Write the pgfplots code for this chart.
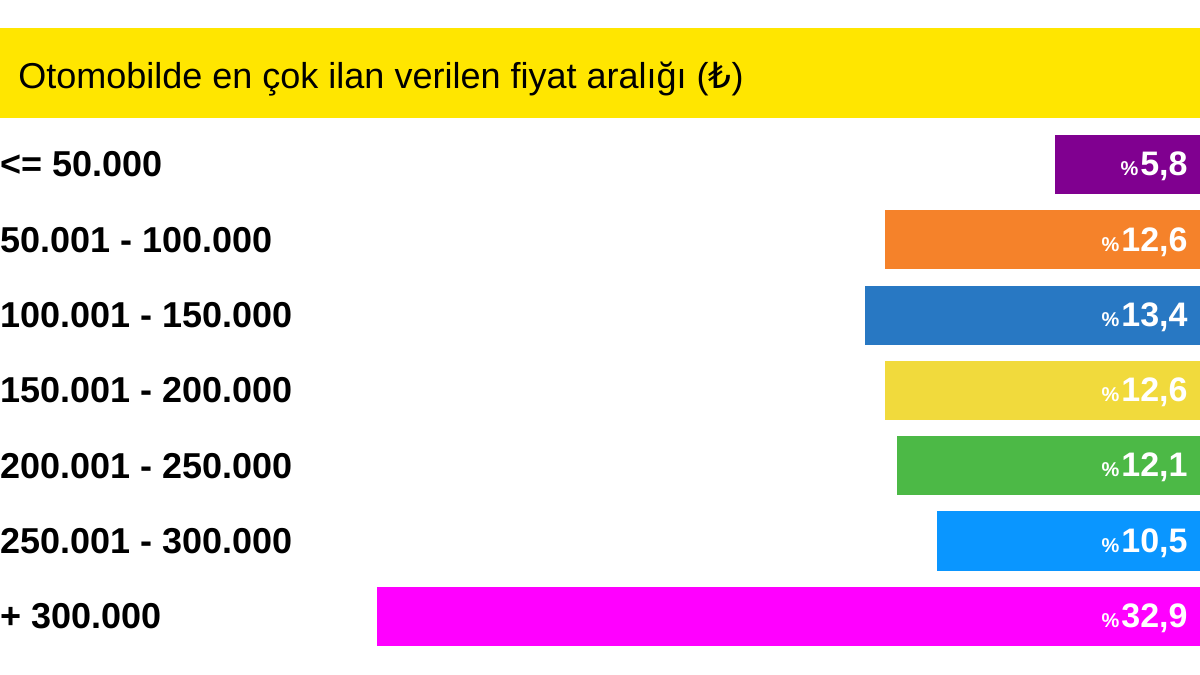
\documentclass[border=0pt]{standalone}
\usepackage{fontspec}
\setmainfont{Liberation Sans}
\newfontfamily\dejavu{DejaVu Sans}
\usepackage{pgfplots}
\pgfplotsset{compat=1.18}
\definecolor{header}{RGB}{255,230,0}
\definecolor{cPurple}{RGB}{128,0,144}
\definecolor{cOrange}{RGB}{245,130,42}
\definecolor{cBlue}{RGB}{40,120,195}
\definecolor{cYellow}{RGB}{241,218,60}
\definecolor{cGreen}{RGB}{76,185,70}
\definecolor{cLight}{RGB}{10,150,255}
\definecolor{cMagenta}{RGB}{255,0,255}
\pgfplotsset{barstyle/.style={xbar, bar width=0.784, bar shift=0pt, draw=none, fill=#1}}

\begin{document}
\begin{tikzpicture}
\useasboundingbox (0,0) rectangle (600pt,337.5pt);
\begin{axis}[
    at={(0,0)}, anchor=south west,
    scale only axis,
    width=600pt, height=337.5pt,
    xmin=0, xmax=48, x dir=reverse,
    ymin=-2.185, ymax=6.78, y dir=reverse,
    axis line style={draw=none},
    major tick length=0pt,
    xtick=\empty,
    ytick={0,1,2,3,4,5,6},
    yticklabels={{<= 50.000},{50.001 - 100.000},{100.001 - 150.000},{150.001 - 200.000},{200.001 - 250.000},{250.001 - 300.000},{+ 300.000}},
    yticklabel style={anchor=west, inner sep=0pt, font=\fontsize{18}{18}\selectfont\bfseries},
    clip=false,
]
\fill[header] (axis cs:48,-1.813) rectangle (axis cs:0,-0.6175);
\node[anchor=west, inner sep=0pt, font=\fontsize{18}{18}\selectfont] at (axis cs:47.28,-1.14)
    {Otomobilde en çok ilan verilen fiyat aralığı ({\dejavu ₺})};

\addplot[barstyle=cPurple]  coordinates {(5.8,0)};
\addplot[barstyle=cOrange]  coordinates {(12.6,1)};
\addplot[barstyle=cBlue]    coordinates {(13.4,2)};
\addplot[barstyle=cYellow]  coordinates {(12.6,3)};
\addplot[barstyle=cGreen]   coordinates {(12.1,4)};
\addplot[barstyle=cLight]   coordinates {(10.5,5)};
\addplot[barstyle=cMagenta] coordinates {(32.9,6)};

% value labels at the right end of each bar
\addplot[draw=none, point meta=explicit,
    nodes near coords={{\fontsize{10}{10}\selectfont\bfseries\%}\hspace{1pt}\pgfmathprintnumber[assume math mode=true,use comma,fixed,fixed zerofill,precision=1]{\pgfplotspointmeta}},
    every node near coord/.append style={anchor=east, xshift=-6pt, yshift=-1pt, text=white, inner sep=0pt,
        font=\fontsize{17}{17}\selectfont\bfseries}]
    coordinates {(0,0) [5.8] (0,1) [12.6] (0,2) [13.4] (0,3) [12.6] (0,4) [12.1] (0,5) [10.5] (0,6) [32.9]};
\end{axis}
\end{tikzpicture}
\end{document}
